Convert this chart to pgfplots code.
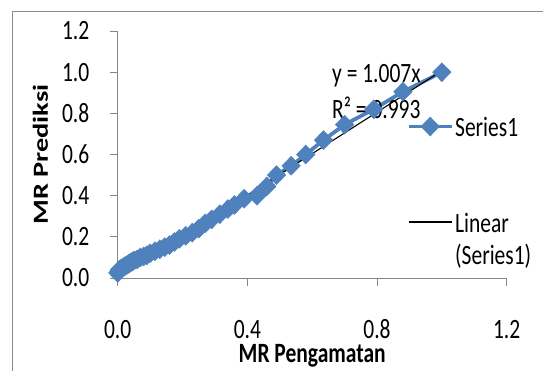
\documentclass[border=0pt]{standalone}
\usepackage{pgfplots}
\pgfplotsset{compat=1.18}
\usepackage{fontspec}
\setmainfont{Carlito}
\definecolor{sblue}{HTML}{4F81BD}
\definecolor{axgray}{HTML}{868686}
\newcommand{\vs}[1]{\scalebox{1}[1.3]{#1}}
\begin{document}
\begin{tikzpicture}[font=\fontsize{21.5}{24}\selectfont]
\useasboundingbox (0pt,0pt) rectangle (543pt,370pt);
\draw[color=black!45, line width=1.6pt] (12.3pt,-3pt) -- (12.3pt,358.5pt) -- (547pt,358.5pt);
\begin{axis}[
  at={(117.7pt,92pt)}, anchor=south west,
  scale only axis, width=389pt, height=247pt,
  xmin=0, xmax=1.2, ymin=0, ymax=1.2,
  axis x line=bottom, axis y line=left,
  axis line style={draw=axgray, line width=0.9pt, -},
  xtick={0,0.4,0.8,1.2}, ytick={0,0.2,0.4,0.6,0.8,1.0,1.2},
  tick align=outside, major tick length=7.5pt,
  tick style={draw=axgray, line width=0.9pt},
  /pgf/number format/.cd, fixed, fixed zerofill, precision=1, /pgfplots/.cd,
  xticklabel={\vs{\pgfmathprintnumber[assume math mode=true]{\tick}}},
  yticklabel={\vs{\pgfmathprintnumber[assume math mode=true]{\tick}}},
  xticklabel style={anchor=base, yshift=-52.5pt, inner sep=0pt},
  yticklabel style={anchor=east, xshift=-20.7pt, inner sep=0pt},
  every axis y label/.style={at={(axis description cs:-0.1985,0.5)}, anchor=center, rotate=90, inner sep=0pt},
  every axis x label/.style={at={(axis description cs:0.5,-0.343)}, anchor=base, inner sep=0pt},
  xlabel={\vs{\bfseries MR Pengamatan}},
  ylabel={\scalebox{1.32}[1]{\bfseries MR Prediksi}},
  clip=false,
  legend cell align=left,
  legend image code/.code={\draw[mark repeat=2,mark phase=2,#1] plot coordinates {(0pt,0pt) (21.5pt,0pt) (43pt,0pt)};},
  legend style={draw=none, fill=none, at={(axis cs:0.892,0.80)}, anchor=north west,
    row sep=5.5pt, inner sep=0pt, outer sep=0pt, nodes={inner sep=1.5pt}},
]
\addplot[sblue, line width=3.8pt, mark=diamond*, mark size=9.5pt,
  mark options={solid, line width=0.4pt, xscale=1.3}] coordinates {
(0,0.025) (0.005,0.04) (0.01,0.045) (0.015,0.05) (0.02,0.055) (0.025,0.06)
(0.03,0.065) (0.035,0.07) (0.04,0.075) (0.045,0.08) (0.05,0.085) (0.06,0.09)
(0.07,0.10) (0.08,0.105) (0.09,0.11) (0.10,0.12) (0.115,0.13) (0.13,0.14)
(0.145,0.15) (0.16,0.16) (0.175,0.175) (0.19,0.19) (0.21,0.205) (0.23,0.22)
(0.25,0.24) (0.27,0.265) (0.29,0.285) (0.315,0.31) (0.34,0.335) (0.36,0.355)
(0.39,0.385) (0.43,0.40) (0.46,0.445) (0.49,0.50) (0.535,0.545) (0.58,0.60)
(0.635,0.67) (0.70,0.745) (0.79,0.82) (0.88,0.905) (1.0,1.0)
};
\addlegendentry{\vs{\strut Series1}}
\addlegendimage{empty legend}\addlegendentry{\vs{\strut}}
\addlegendimage{empty legend}\addlegendentry{\vs{\strut}}
\addplot[black, line width=1.1pt, no marks] coordinates {(0,0) (1,1.007)};
\addlegendentry{\vs{\strut Linear}}
\addlegendimage{empty legend}\addlegendentry{\vs{\strut (Series1)}}
\node[anchor=base west, inner sep=0pt] at (axis cs:0.661,0.952) {\vs{y = 1.007x}};
\node[anchor=base west, inner sep=0pt] at (axis cs:0.661,0.777) {\vs{R² = 0.993}};
\end{axis}
\end{tikzpicture}
\end{document}
